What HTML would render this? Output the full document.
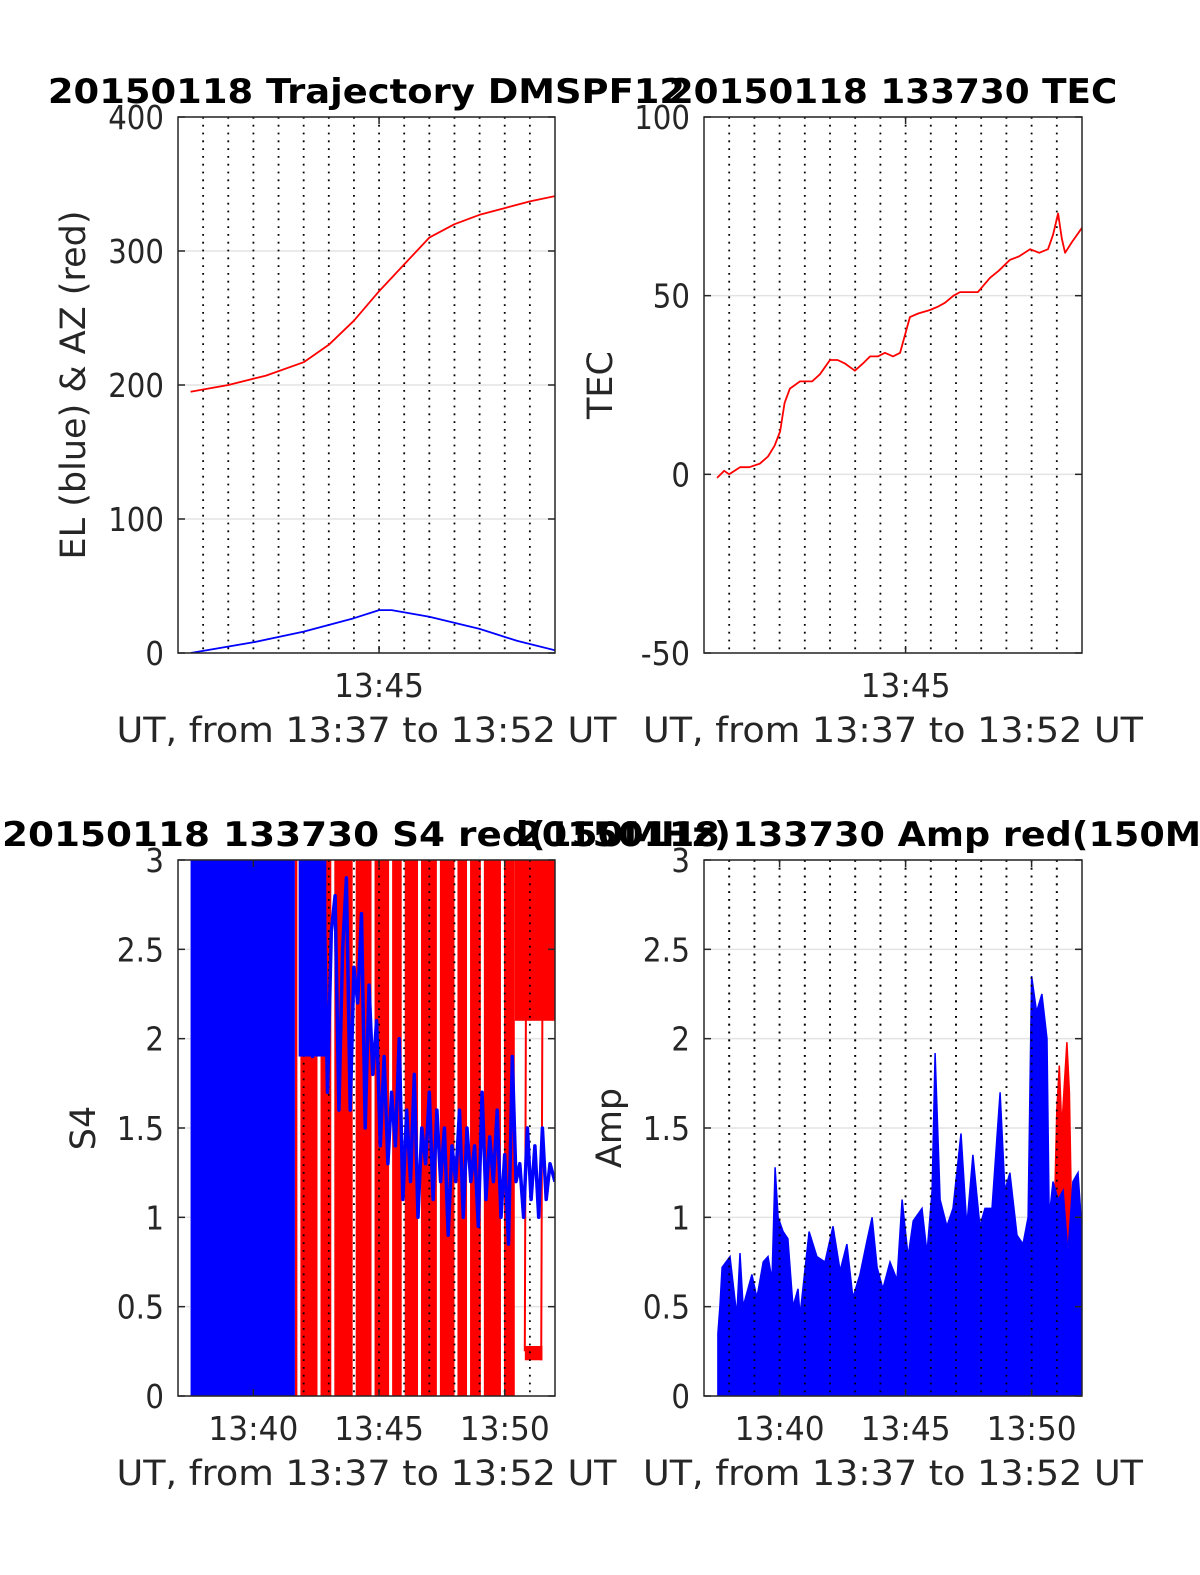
<!DOCTYPE html>
<html><head><meta charset="utf-8"><style>
body{margin:0;background:#fff}
svg{display:block;font-family:"DejaVu Sans","Liberation Sans",sans-serif}
</style></head><body>
<svg id="fig" width="1200" height="1575" viewBox="0 0 1200 1575" xmlns="http://www.w3.org/2000/svg">
<rect width="1200" height="1575" fill="#fff"/>
</svg>
<script>
// ---- data (time in minutes after 13:37) ----
const azT=[0.5,2,3.5,5,6,7,8,9,10,11,12,13,14,15];
const azV=[195,200,207,217,230,248,270,290,310,320,327,332,337,341];
const elT=[0.5,3,5,7,8,8.5,10,12,13.5,15];
const elV=[0,8,16,26,32,32,27,18,9,2];
const tecT=[0.52,0.8,1.0,1.43,1.8,2.22,2.54,2.8,3.02,3.2,3.41,3.81,4.29,4.6,5.0,5.3,5.6,5.99,6.3,6.59,6.9,7.18,7.5,7.78,8.17,8.5,8.97,9.3,9.56,9.9,10.16,10.5,10.87,11.35,11.7,12.14,12.5,12.94,13.3,13.65,13.85,14.05,14.2,14.33,14.6,15];
const tecV=[-1,1,0,2,2,3,5,8,12,20,24,26,26,28,32,32,31,29,31,33,33,34,33,34,44,45,46,47,48,50,51,51,51,55,57,60,61,63,62,63,67,73,66,62,65,69];
const ampT=[0.55,0.63,0.72,1.03,1.3,1.43,1.55,1.9,2.1,2.35,2.54,2.7,2.82,2.94,3.14,3.33,3.53,3.73,3.81,4.17,4.48,4.8,5.12,5.4,5.67,5.91,6.19,6.47,6.67,6.87,7.1,7.38,7.66,7.86,8.1,8.3,8.65,8.85,9.05,9.17,9.37,9.64,9.88,10.2,10.43,10.67,10.95,11.15,11.43,11.75,11.94,12.14,12.42,12.66,12.86,13.0,13.2,13.41,13.61,13.7,13.85,14.05,14.25,14.44,14.64,14.84,15.0];
const ampV=[0.35,0.5,0.72,0.78,0.45,0.8,0.5,0.68,0.55,0.75,0.78,0.65,1.28,1.0,0.92,0.88,0.5,0.6,0.45,0.92,0.78,0.75,0.95,0.7,0.85,0.55,0.68,0.87,1.0,0.72,0.6,0.75,0.65,1.1,0.78,0.98,1.05,0.8,1.15,1.92,1.1,0.95,1.05,1.47,0.95,1.35,0.95,1.05,1.05,1.7,1.15,1.25,0.9,0.85,1.0,2.35,2.15,2.25,2.0,1.0,1.2,1.1,1.15,0.8,1.2,1.25,0.92];
const ampRedT=[13.9,14.0,14.1,14.2,14.3,14.4,14.5,14.6];
const ampRedV=[1.0,1.6,1.85,1.5,1.75,1.98,1.7,0.9];
const s4BlueT=[4.9,5.05,5.2,5.35,5.5,5.65,5.8,5.95,6.1,6.25,6.4,6.55,6.7,6.85,7.0,7.15,7.3,7.45,7.6,7.75,7.9,8.05,8.2,8.35,8.5,8.65,8.8,8.95,9.1,9.25,9.4,9.55,9.7,9.85,10.0,10.15,10.3,10.45,10.6,10.75,10.9,11.05,11.2,11.35,11.5,11.65,11.8,11.95,12.1,12.25,12.4,12.55,12.7,12.85,13.0,13.15,13.3,13.45,13.6,13.75,13.9,14.05,14.2,14.35,14.5,14.65,14.8,15.0];
const s4BlueV=[3.0,2.2,2.9,1.9,2.7,2.4,2.9,1.7,2.6,2.8,1.6,2.5,2.9,1.6,2.4,2.2,2.7,1.5,2.3,1.8,2.1,1.4,1.9,1.3,1.7,1.4,2.0,1.1,1.6,1.2,1.8,1.0,1.5,1.3,1.7,1.1,1.6,1.2,1.5,0.9,1.4,1.2,1.6,1.0,1.5,1.2,1.4,0.95,1.7,1.1,1.45,1.2,1.6,1.0,1.35,0.85,1.9,1.2,1.3,1.0,1.5,1.1,1.4,1.0,1.5,1.1,1.3,1.2];
const s4RedGapT=[4.75,5.55,6.1,6.95,7.7,8.4,8.9,9.55,10.3,11.0,11.5,12.05,12.85];
const yTicksTL=[0,100,200,300,400];
const yTicksTR=[-50,0,50,100];
const yTicksB=[0,0.5,1,1.5,2,2.5,3];
const yTickLabB=["0","0.5","1","1.5","2","2.5","3"];

const NS="http://www.w3.org/2000/svg";
const svg=document.getElementById('fig');
function el(tag,attrs,parent){const e=document.createElementNS(NS,tag);for(const k in attrs)e.setAttribute(k,attrs[k]);(parent||svg).appendChild(e);return e;}
function twidth(s){let w=0;for(const c of s){w+= /[0-9]/.test(c)?18.6:(c==='.'||c===':')?10:(c==='-')?12:18;}return w;}

function makeAxes(L,T,W,H,ymin,ymax,name){
  const a={L,T,W,H,x:t=>L+t*W/15,y:v=>T+H-(v-ymin)/(ymax-ymin)*H};
  const g=el('g',{});
  
  
  a.g=g;
  const clip=el('clipPath',{id:'c'+name},g);
  el('rect',{x:L,y:T,width:W,height:H},clip);
  a.clip='url(#c'+name+')';
  return a;
}
function grid(a,yt){
  yt.forEach(v=>{const l=el('line',{x1:a.L,x2:a.L+a.W,y1:a.y(v),y2:a.y(v),stroke:'#e3e3e3','stroke-width':1.5},a.g);
  
  });
}
function dots(a){
  for(let m=1;m<15;m++){const l=el('line',{x1:a.x(m),x2:a.x(m),y1:a.T,y2:a.T+a.H,stroke:'#000','stroke-width':1.8,'stroke-dasharray':'1.8 6'},a.g);
  
  }
}
function frame(a,yt,ylab,xt,xlab,title,ylabel,ylx,tcw){
  const r=el('rect',{x:a.L,y:a.T,width:a.W,height:a.H,fill:'none',stroke:'#262626','stroke-width':1.5},a.g);
  
  
  yt.forEach((v,i)=>{const y=a.y(v);
    el('line',{x1:a.L,x2:a.L+7,y1:y,y2:y,stroke:'#262626','stroke-width':1.5},a.g);
    el('line',{x1:a.L+a.W-7,x2:a.L+a.W,y1:y,y2:y,stroke:'#262626','stroke-width':1.5},a.g);
    const t=el('text',{x:a.L-14,y:y+12,'text-anchor':'end','font-size':33,fill:'#262626',textLength:twidth(ylab[i]),lengthAdjust:'spacingAndGlyphs'},a.g);t.textContent=ylab[i];
    
    });
  xt.forEach((v,i)=>{const x=a.x(v);
    el('line',{x1:x,x2:x,y1:a.T+a.H-7,y2:a.T+a.H,stroke:'#262626','stroke-width':1.5},a.g);
    el('line',{x1:x,x2:x,y1:a.T,y2:a.T+7,stroke:'#262626','stroke-width':1.5},a.g);
    const t=el('text',{x:x,y:a.T+a.H+44,'text-anchor':'middle','font-size':33,fill:'#262626',textLength:90,lengthAdjust:'spacingAndGlyphs'},a.g);t.textContent=xlab[i];
    
    });
  const xl=el('text',{x:a.L+a.W/2,y:a.T+a.H+89,'text-anchor':'middle','font-size':35,fill:'#262626',textLength:500,lengthAdjust:'spacingAndGlyphs'},a.g);
  xl.textContent='UT, from 13:37 to 13:52 UT';
  
  
  const tw=title.length*tcw;
  const tt=el('text',{x:a.L+a.W/2,y:a.T-14,'text-anchor':'middle','font-size':34,'font-weight':'bold',fill:'#000',textLength:tw,lengthAdjust:'spacingAndGlyphs'},a.g);
  tt.textContent=title;
  
  
  const yl=el('text',{x:0,y:0,'text-anchor':'middle','font-size':35,fill:'#262626',transform:`translate(${ylx},${a.T+a.H/2}) rotate(-90)`},a.g);
  yl.textContent=ylabel;
  
  
}
function line(a,T,V,color,w,name){
  const d=T.map((t,i)=>(i?'L':'M')+a.x(t).toFixed(1)+','+a.y(V[i]).toFixed(1)).join('');
  const p=el('path',{d,fill:'none',stroke:color,'stroke-width':w,'clip-path':a.clip,'stroke-linejoin':'round'},a.g);
  
  
  return p;
}
function area(a,T,V,color,name){
  let d='M'+a.x(T[0]).toFixed(1)+','+a.y(0).toFixed(1);
  T.forEach((t,i)=>{d+='L'+a.x(t).toFixed(1)+','+a.y(V[i]).toFixed(1);});
  d+='L'+a.x(T[T.length-1]).toFixed(1)+','+a.y(0).toFixed(1)+'Z';
  const p=el('path',{d,fill:color,stroke:color,'stroke-width':1.5,'clip-path':a.clip},a.g);
  
  
}

// Top-left: trajectory
const a1=makeAxes(178,117,377,536,0,400,'trajectory-axes');
grid(a1,yTicksTL);dots(a1);
line(a1,azT,azV,'#ff0000',1.8,'az-line-red');
line(a1,elT,elV,'#0000ff',1.8,'el-line-blue');
frame(a1,yTicksTL,yTicksTL.map(String),[8],['13:45'],'20150118 Trajectory DMSPF12','EL (blue) & AZ (red)',85,23.6);

// Top-right: TEC
const a2=makeAxes(704,117,378,536,-50,100,'tec-axes');
grid(a2,yTicksTR);dots(a2);
line(a2,tecT,tecV,'#ff0000',1.8,'tec-line');
frame(a2,yTicksTR,yTicksTR.map(String),[8],['13:45'],'20150118 133730 TEC','TEC',612,23.6);

// Bottom-left: S4
const a3=makeAxes(178,860,377,536,0,3,'s4-axes');
grid(a3,yTicksB);
const rr=el('rect',{x:a3.x(4.65),y:a3.T,width:a3.x(13.4)-a3.x(4.65),height:a3.H,fill:'#ff0000'},a3.g);


s4RedGapT.forEach(t=>{const g=el('rect',{x:a3.x(t),y:a3.T,width:3,height:a3.H,fill:'#fff'},a3.g);
  
  });
const rr2=el('rect',{x:a3.x(13.4),y:a3.T,width:a3.x(15)-a3.x(13.4),height:a3.y(2.1)-a3.T,fill:'#ff0000'},a3.g);


const rr3=el('rect',{x:a3.x(13.8),y:a3.y(0.28),width:a3.x(14.5)-a3.x(13.8),height:a3.y(0.2)-a3.y(0.28),fill:'#ff0000'},a3.g);


line(a3,[13.8,13.85,13.85],[0.25,2.5,3],'#ff0000',2,'s4-red-spike');
line(a3,[14.45,14.5,14.5],[0.2,2.2,3],'#ff0000',2,'s4-red-spike');
dots(a3);
const bb=el('rect',{x:a3.x(0.5),y:a3.T,width:a3.x(4.65)-a3.x(0.5),height:a3.H,fill:'#0000ff'},a3.g);


const bb2=el('rect',{x:a3.x(4.8),y:a3.T,width:a3.x(5.9)-a3.x(4.8),height:a3.y(1.9)-a3.T,fill:'#0000ff'},a3.g);


line(a3,s4BlueT,s4BlueV,'#0000ff',3.5,'s4-blue-line');
frame(a3,yTicksB,yTickLabB,[3,8,13],['13:40','13:45','13:50'],'20150118 133730 S4 red(150MHz)','S4',95,24.3);

// Bottom-right: Amp
const a4=makeAxes(704,860,378,536,0,3,'amp-axes');
grid(a4,yTicksB);dots(a4);
area(a4,ampRedT,ampRedV,'#ff0000','amp-red-fill');
area(a4,ampT,ampV,'#0000ff','amp-blue-fill');
dots(a4);
frame(a4,yTicksB,yTickLabB,[3,8,13],['13:40','13:45','13:50'],'20150118 133730 Amp red(150MHz)','Amp',621,24.3);
</script>
</body></html>
